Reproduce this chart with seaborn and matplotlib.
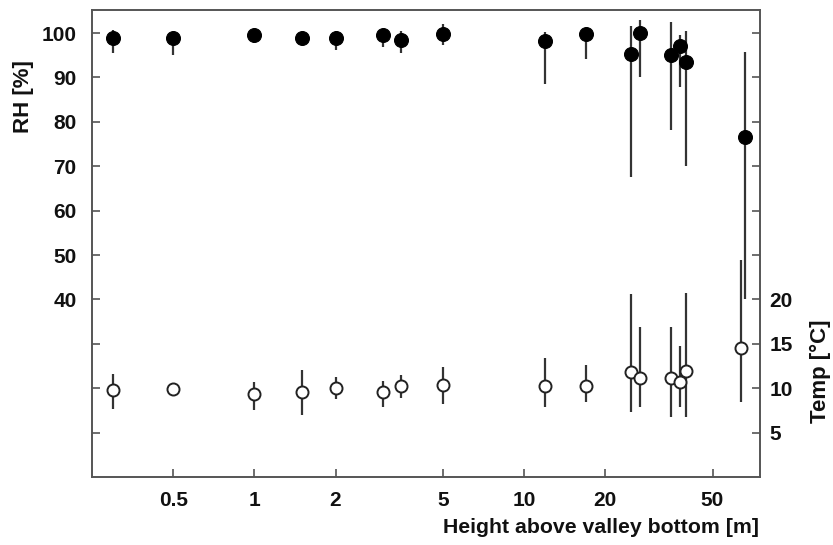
import numpy as np
import pandas as pd
import matplotlib
matplotlib.use("Agg")
import matplotlib.pyplot as plt
import seaborn as sns

# ---- data ----
height_rh = [0.30, 0.5, 1.0, 1.5, 2.0, 3.0, 3.5, 5.0, 12, 17, 25, 27, 35, 38, 40, 65.8]
rh_mean   = [98.8, 98.9, 99.5, 99.0, 98.8, 99.5, 98.4, 99.8, 98.3, 99.8, 95.3, 100.1, 95.0, 97.1, 93.5, 76.6]
rh_upper  = [100.7, 100.2, 101.0, 99.0, 100.5, 101.0, 100.5, 102.0, 100.3, 100.7, 101.6, 102.9, 102.5, 99.5, 100.5, 95.8]
rh_lower  = [95.6, 95.0, 97.7, 99.0, 96.3, 96.9, 95.6, 97.3, 88.5, 94.1, 67.6, 90.2, 78.2, 87.8, 70.0, 40.2]

height_t  = [0.30, 0.5, 1.0, 1.5, 2.0, 3.0, 3.5, 5.0, 12, 17, 25, 27, 35, 38, 40, 63.6]
t_mean    = [9.8, 9.95, 9.4, 9.6, 10.0, 9.6, 10.25, 10.4, 10.3, 10.25, 11.8, 11.1, 11.2, 10.7, 11.9, 14.5]
t_upper   = [11.6, 10.3, 10.7, 12.0, 11.3, 10.85, 11.45, 12.4, 13.4, 12.6, 20.6, 16.9, 16.9, 14.8, 20.75, 24.4]
t_lower   = [7.7, 9.6, 7.5, 7.0, 8.75, 7.85, 8.85, 8.2, 7.9, 8.4, 7.35, 7.9, 6.8, 7.85, 6.8, 8.5]

x_ticks = [0.5, 1, 2, 5, 10, 20, 50]
x_ticklabels = ["0.5", "1", "2", "5", "10", "20", "50"]
rh_ticks = [10, 20, 30, 40, 50, 60, 70, 80, 90, 100]
rh_labeled = [40, 50, 60, 70, 80, 90, 100]
t_ticks = [5, 10, 15, 20, 25, 30, 35, 40, 45, 50]
t_labeled = [5, 10, 15, 20]

df_rh = pd.DataFrame({"h": height_rh, "rh": rh_mean, "lo": rh_lower, "hi": rh_upper})
df_t = pd.DataFrame({"h": height_t, "t": t_mean, "lo": t_lower, "hi": t_upper})

sns.set_theme(style="white")
plt.rcParams['font.family'] = ['Liberation Sans', 'DejaVu Sans']
plt.rcParams['font.weight'] = 'bold'
plt.rcParams['text.color'] = '#111111'
plt.rcParams['axes.labelcolor'] = '#111111'
plt.rcParams['xtick.labelcolor'] = '#111111'
plt.rcParams['ytick.labelcolor'] = '#111111'

fig = plt.figure(figsize=(8.33, 5.45), dpi=100)
ax = fig.add_axes([92/833, 1-477/545, (760-92)/833, (477-10)/545])
ax2 = ax.twinx()

line_c = "#333333"
spine_c = "#555555"

# RH error bars + markers
ax.vlines(df_rh["h"], df_rh["lo"], df_rh["hi"], color=line_c, lw=1.6, zorder=2)
sns.scatterplot(data=df_rh, x="h", y="rh", ax=ax, color="black", s=100,
                edgecolor="black", linewidth=0.8, zorder=3, legend=False)

# Temperature error bars + markers
ax2.vlines(df_t["h"], df_t["lo"], df_t["hi"], color=line_c, lw=1.6, zorder=2)
sns.scatterplot(data=df_t, x="h", y="t", ax=ax2, color="white", s=75,
                edgecolor="#222222", linewidth=1.4, zorder=3, legend=False)

ax.set_xscale("log")
ax.set_xlim(0.25, 75)
ax.set_ylim(0, 105.2)
ax2.set_ylim(0, 105.2 / 2)

ax.set_xticks(x_ticks)
ax.set_xticklabels(x_ticklabels)
ax.xaxis.set_minor_locator(matplotlib.ticker.NullLocator())

ax.set_yticks(rh_ticks)
ax.set_yticklabels([str(v) if v in rh_labeled else "" for v in rh_ticks])
ax2.set_yticks(t_ticks)
ax2.set_yticklabels([str(v) if v in t_labeled else "" for v in t_ticks])

for a in (ax, ax2):
    for s in a.spines.values():
        s.set_color(spine_c)
        s.set_linewidth(1.2)
        s.set_visible(True)

ax.tick_params(axis="x", which="major", direction="in", length=6, width=1.2,
               color=spine_c, labelsize=15, pad=10, bottom=True)
ax.tick_params(axis="y", direction="in", length=6, width=1.2, color=spine_c,
               labelsize=15, pad=11, left=True)
ax2.tick_params(axis="y", direction="in", length=6, width=1.2, color=spine_c,
                labelsize=15, pad=7, right=True)

for lab in ax.get_xticklabels() + ax.get_yticklabels() + ax2.get_yticklabels():
    lab.set_fontweight("bold")

ax.set_xlabel("Height above valley bottom [m]", fontsize=15.3, fontweight="bold")
ax.set_ylabel("RH [%]", fontsize=16, fontweight="bold")
ax2.set_ylabel("Temp [°C]", fontsize=16, fontweight="bold")
ax.xaxis.set_label_coords((759 - 92) / (760 - 92), -0.088)
ax.xaxis.label.set_horizontalalignment("right")
ax.yaxis.set_label_coords((24 - 92) / 668, (477 - 97) / 467)
ax.yaxis.label.set_verticalalignment("center")
ax2.yaxis.set_label_coords((820 - 92) / 668, (477 - 371) / 467)
ax2.yaxis.label.set_verticalalignment("center")

fig.savefig("out.png", dpi=100)
